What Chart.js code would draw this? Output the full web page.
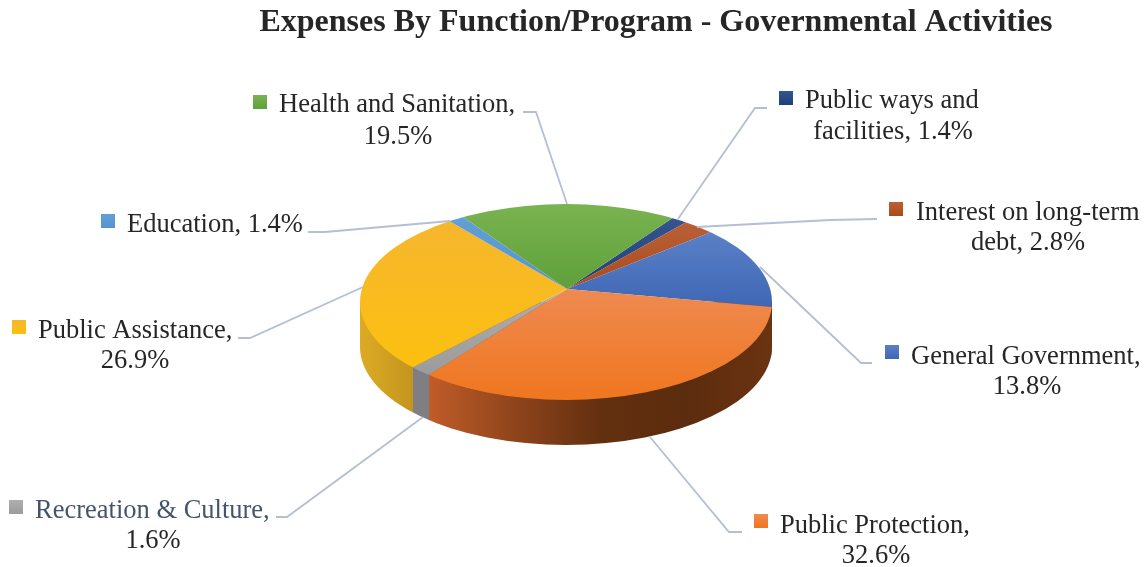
<!DOCTYPE html>
<html>
<head>
<meta charset="utf-8">
<title>Expenses By Function/Program</title>
<script src="https://cdn.jsdelivr.net/npm/chart.js@4/dist/chart.umd.min.js"></script>
<style>
  html, body { margin: 0; padding: 0; background: #fff; }
  canvas { display: block; }
</style>
</head>
<body>
<canvas id="pie" width="1146" height="567"></canvas>
<script>
var chartTitle = 'Expenses By Function/Program - Governmental Activities';
var categories = ['Public ways and facilities', 'Interest on long-term debt', 'General Government', 'Public Protection', 'Recreation & Culture', 'Public Assistance', 'Education', 'Health and Sanitation'];
var shares = [1.4, 2.8, 13.8, 32.6, 1.6, 26.9, 1.4, 19.5];

// slice colours: top of the face, bottom of the face
var faceLight = ['#34558f', '#b9603a', '#5a80c6', '#ee8a50', '#aeaeae', '#f6b62e', '#629fd8', '#7ab351'];
var faceDark = ['#1f3f78', '#ad4a17', '#3f67b5', '#f0761f', '#9b9b9b', '#fcc010', '#5494d0', '#5ea03a'];
// side wall, left to right
var wallStops = [
  ['#1a3360', '#1a3360'], ['#6e3210', '#6e3210'], ['#27457f', '#27457f'],
  ['#c05c28', '#8f451c', '#63300f', '#5c2c0e', '#6a3311'],
  ['#7d7f82', '#7d7f82'], ['#dcaa24', '#c4961f'], ['#3d6f9e', '#3d6f9e'], ['#4c7c30', '#4c7c30']
];

var labelColors = ['#262626', '#262626', '#262626', '#262626', '#44546a', '#262626', '#262626', '#262626'];

// top face geometry on the page
var pie = { cx: 566, cy: 302, rx: 206, ry: 98, apexX: 567, apexY: 289, squash: 0.48, depth: 45, rotation: 35.5 };

// label placement, same order as categories. words = words kept on line one
var labelLayout = [
  { box: [779, 91], x: 805, y: 108, words: 3, x2: 893, y2: 139, line: [[767, 108], [755, 108], [678, 219]] },
  { box: [889, 202], x: 916, y: 220, words: 3, x2: 1028, y2: 250, line: [[877, 219], [830, 220], [697, 227]] },
  { box: [885, 345], x: 911, y: 364, words: 2, x2: 1027, y2: 394, line: [[872, 363], [861, 363], [760, 267]] },
  { box: [754, 514], x: 780, y: 533, words: 2, x2: 876, y2: 563, line: [[742, 532], [729, 532], [650, 437]] },
  { box: [9, 500], x: 35, y: 518, words: 3, x2: 153, y2: 548, line: [[276, 517], [287, 517], [423, 417]] },
  { box: [12, 320], x: 38, y: 338, words: 2, x2: 135, y2: 368, line: [[238, 338], [250, 338], [363, 287]] },
  { box: [101, 214], x: 127, y: 232, words: 2, x2: null, y2: null, line: [[308, 232], [325, 232], [450, 221]] },
  { box: [253, 95], x: 279, y: 112, words: 3, x2: 398, y2: 144, line: [[523, 112], [536, 112], [567, 204]] }
];

var serif = '"Liberation Serif", "Times New Roman", serif';

// where a ray from the apex meets the rim of the top face
function rimPoint(angle) {
  var c = Math.cos(angle), s = Math.sin(angle) * pie.squash;
  var dx = pie.apexX - pie.cx, dy = pie.apexY - pie.cy;
  var rx2 = pie.rx * pie.rx, ry2 = pie.ry * pie.ry;
  var A = c * c / rx2 + s * s / ry2;
  var B = 2 * (dx * c / rx2 + dy * s / ry2);
  var C = dx * dx / rx2 + dy * dy / ry2 - 1;
  var t = (-B + Math.sqrt(B * B - 4 * A * C)) / (2 * A);
  return { x: pie.apexX + t * c, y: pie.apexY + t * s };
}

function sliceAngles(i) {
  var total = shares.reduce(function (a, b) { return a + b; }, 0);
  var before = shares.slice(0, i).reduce(function (a, b) { return a + b; }, 0);
  var start = (pie.rotation - 90) * Math.PI / 180;
  return [start + before / total * 2 * Math.PI, start + (before + shares[i]) / total * 2 * Math.PI];
}

function rimSamples(i) {
  var a = sliceAngles(i), pts = [];
  for (var n = 0; n <= 60; n++) {
    pts.push(rimPoint(a[0] + (a[1] - a[0]) * n / 60));
  }
  return pts;
}

// gradient for a slice, worked out in the chart's own coordinates
function sliceFill(c) {
  var i = c.dataIndex;
  if (i === undefined || !c.chart.chartArea) return '#999';
  var area = c.chart.chartArea;
  var midY = (area.top + area.bottom) / 2;
  var ys = rimSamples(i).map(function (p) { return p.y; }).concat([pie.apexY]);
  var y0 = midY + (Math.min.apply(null, ys) - pie.apexY) / pie.squash;
  var y1 = midY + (Math.max.apply(null, ys) - pie.apexY) / pie.squash;
  var g = c.chart.ctx.createLinearGradient(0, y0, 0, y1);
  g.addColorStop(0, faceLight[i]);
  g.addColorStop(1, faceDark[i]);
  return g;
}

function drawWalls(ctx) {
  ctx.save();
  ctx.beginPath();
  ctx.ellipse(pie.cx, pie.cy, pie.rx, pie.ry, 0, 0, 2 * Math.PI);
  ctx.closePath();
  ctx.ellipse(pie.cx, pie.cy + pie.depth, pie.rx, pie.ry, 0, 0, 2 * Math.PI);
  ctx.closePath();
  ctx.rect(pie.cx - pie.rx, pie.cy, 2 * pie.rx, pie.depth);
  ctx.clip();
  shares.forEach(function (v, i) {
    var front = rimSamples(i).filter(function (p) { return p.y >= pie.cy; });
    if (!front.length) return;
    var xs = front.map(function (p) { return p.x; });
    var x0 = Math.min.apply(null, xs), x1 = Math.max.apply(null, xs);
    var g = ctx.createLinearGradient(x0, 0, x1, 0);
    wallStops[i].forEach(function (col, n) {
      g.addColorStop(n / (wallStops[i].length - 1), col);
    });
    ctx.fillStyle = g;
    ctx.fillRect(x0 - 0.5, pie.cy, x1 - x0 + 1, pie.depth + pie.ry + 2);
  });
  ctx.restore();
}

function drawLabels(ctx) {
  ctx.save();
  ctx.textBaseline = 'alphabetic';
  ctx.fillStyle = '#262626';
  ctx.font = 'bold 32px ' + serif;
  ctx.textAlign = 'center';
  ctx.fillText(chartTitle, 656, 31);

  ctx.strokeStyle = '#b4bfd3';
  ctx.lineWidth = 1.8;
  labelLayout.forEach(function (l) {
    ctx.beginPath();
    l.line.forEach(function (p, n) {
      if (n === 0) ctx.moveTo(p[0], p[1]); else ctx.lineTo(p[0], p[1]);
    });
    ctx.stroke();
  });

  ctx.font = '26.5px ' + serif;
  categories.forEach(function (name, i) {
    var l = labelLayout[i];
    var words = (name + ', ' + shares[i].toFixed(1) + '%').split(' ');
    var g = ctx.createLinearGradient(0, l.box[1], 0, l.box[1] + 14);
    g.addColorStop(0, faceLight[i]);
    g.addColorStop(1, faceDark[i]);
    ctx.fillStyle = g;
    ctx.fillRect(l.box[0], l.box[1], 14, 14);

    ctx.fillStyle = labelColors[i];
    ctx.textAlign = 'left';
    ctx.fillText(words.slice(0, l.words).join(' '), l.x, l.y);
    if (l.x2 !== null) {
      ctx.fillStyle = '#262626';
      ctx.textAlign = 'center';
      ctx.fillText(words.slice(l.words).join(' '), l.x2, l.y2);
    }
  });
  ctx.restore();
}

var tiltPlugin = {
  id: 'tilt',
  beforeDatasetsDraw: function (chart) {
    var ctx = chart.ctx;
    var arc = chart.getDatasetMeta(0).data[0];
    drawWalls(ctx);
    ctx.save();
    ctx.beginPath();
    ctx.ellipse(pie.cx, pie.cy, pie.rx, pie.ry, 0, 0, 2 * Math.PI);
    ctx.clip();
    ctx.translate(pie.apexX, pie.apexY);
    ctx.scale(1, pie.squash);
    ctx.translate(-arc.x, -arc.y);
  },
  afterDatasetsDraw: function (chart) {
    chart.ctx.restore();
    drawLabels(chart.ctx);
  }
};

new Chart(document.getElementById('pie').getContext('2d'), {
  type: 'pie',
  data: {
    labels: categories,
    datasets: [{
      data: shares,
      backgroundColor: sliceFill,
      borderWidth: 0,
      clip: false
    }]
  },
  options: {
    responsive: false,
    animation: false,
    rotation: pie.rotation,
    radius: 250,
    layout: { padding: 0 },
    plugins: {
      legend: { display: false },
      tooltip: { enabled: false },
      title: { display: false }
    }
  },
  plugins: [tiltPlugin]
});
</script>
</body>
</html>
